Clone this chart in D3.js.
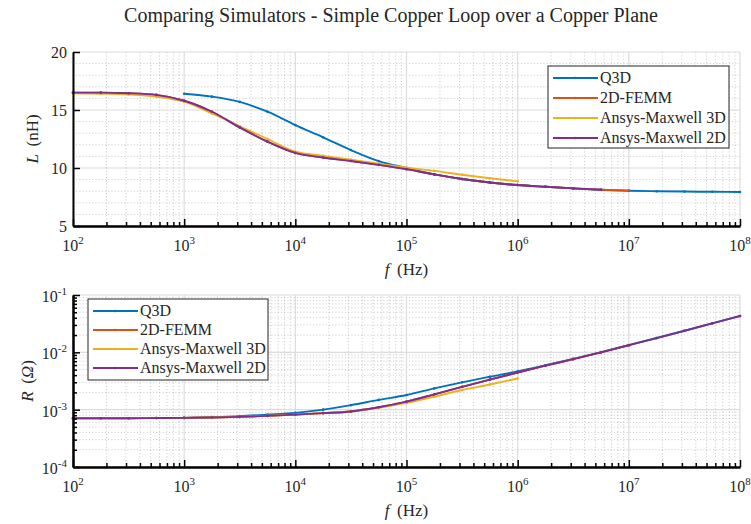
<!DOCTYPE html>
<html><head><meta charset="utf-8">
<script src="https://cdn.jsdelivr.net/npm/d3@7"></script>
<style>body{margin:0;background:#fff}svg{display:block}svg text{font-family:"Liberation Serif",Tinos,"Nimbus Roman","Times New Roman",Times,"DejaVu Serif","Noto Serif",serif;fill:#262626}</style>
</head><body><svg id="c" width="751" height="524"></svg>
<script>
// ---- data ----
const title = "Comparing Simulators - Simple Copper Loop over a Copper Plane";
const seriesNames = ["Q3D", "2D-FEMM", "Ansys-Maxwell 3D", "Ansys-Maxwell 2D"];
const seriesColors = ["#0072BD", "#D95319", "#EDB120", "#7E2F8E"];
// frequency exponents (log10 Hz), 4 points per decade
const fExp = [2,2.25,2.5,2.75,3,3.25,3.5,3.75,4,4.25,4.5,4.75,5,5.25,5.5,5.75,6,6.25,6.5,6.75,7,7.25,7.5,7.75,8];
// Inductance L (nH); null = no sample
const L_Q3D   = [null,null,null,null,16.4,16.15,15.7,14.85,13.7,12.65,11.55,10.6,10.0,9.45,9.05,8.75,8.53,8.38,8.24,8.12,8.04,8.0,7.97,7.95,7.93];
const L_FEMM  = [16.5,16.5,16.45,16.3,15.8,14.85,13.5,12.27,11.3,10.9,10.6,10.27,9.9,9.45,9.05,8.75,8.53,8.38,8.24,8.12,8.05,null,null,null,null];
const L_MX3D  = [16.45,16.4,16.33,16.15,15.72,14.7,13.6,12.5,11.4,11.05,10.72,10.38,10.03,9.75,9.42,9.12,8.85,null,null,null,null,null,null,null,null];
const L_MX2D  = [16.5,16.5,16.45,16.3,15.8,14.85,13.5,12.27,11.3,10.9,10.6,10.27,9.9,9.45,9.05,8.75,8.53,8.38,8.24,8.12,null,null,null,null,null];
// Resistance R (Ohm)
const R_Q3D   = [null,null,null,null,7.2e-4,7.4e-4,7.7e-4,8.2e-4,8.8e-4,1.0e-3,1.2e-3,1.48e-3,1.8e-3,2.35e-3,3.0e-3,3.75e-3,4.65e-3,5.95e-3,7.7e-3,1.01e-2,1.34e-2,1.78e-2,2.38e-2,3.2e-2,4.3e-2];
const R_FEMM  = [7.1e-4,7.1e-4,7.1e-4,7.15e-4,7.2e-4,7.3e-4,7.5e-4,7.8e-4,8.2e-4,8.7e-4,9.3e-4,1.1e-3,1.38e-3,1.85e-3,2.5e-3,3.35e-3,4.45e-3,5.85e-3,7.6e-3,1.0e-2,1.33e-2,null,null,null,null];
const R_MX3D  = [7.1e-4,7.1e-4,7.1e-4,7.15e-4,7.2e-4,7.3e-4,7.5e-4,7.8e-4,8.2e-4,8.7e-4,9.3e-4,1.08e-3,1.31e-3,1.68e-3,2.2e-3,2.75e-3,3.5e-3,null,null,null,null,null,null,null,null];
const R_MX2D  = [7.1e-4,7.1e-4,7.1e-4,7.15e-4,7.2e-4,7.3e-4,7.5e-4,7.8e-4,8.2e-4,8.7e-4,9.3e-4,1.1e-3,1.38e-3,1.85e-3,2.5e-3,3.35e-3,4.45e-3,5.85e-3,7.6e-3,1.0e-2,1.33e-2,1.77e-2,2.37e-2,3.2e-2,4.3e-2];
const xTickExp = [2,3,4,5,6,7,8];
const lTicks = [5,10,15,20];
const rTickExp = [-4,-3,-2,-1];

// ---- drawing ----
const svg = d3.select("#c");
svg.append("text").attr("x", 391).attr("y", 22).attr("text-anchor","middle")
  .style("font-size","20px").text(title);

const x = d3.scaleLog().domain([1e2,1e8]).range([73,740]);
const minorOf = (lo, hi) => { const a=[]; for(let e=lo;e<hi;e++) for(let m=2;m<=9;m++) a.push(m*Math.pow(10,e)); return a; };
const xMinor = minorOf(2,8);

function drawPanel(cfg){
  const g = svg.append("g");
  const y = cfg.y, [y0,y1] = y.range(); // y0 bottom, y1 top
  const [xa,xb] = x.range();
  // minor grid
  g.append("g").selectAll("line").data(xMinor).join("line")
    .attr("x1",d=>x(d)).attr("x2",d=>x(d)).attr("y1",y0).attr("y2",y1)
    .attr("stroke","#b8b8b8").attr("stroke-width",0.8).attr("stroke-dasharray","1,2.2");
  g.append("g").selectAll("line").data(cfg.yMinor).join("line")
    .attr("y1",d=>y(d)).attr("y2",d=>y(d)).attr("x1",xa).attr("x2",xb)
    .attr("stroke","#b8b8b8").attr("stroke-width",0.8).attr("stroke-dasharray","1,2.2");
  // major grid
  g.append("g").selectAll("line").data(xTickExp.map(e=>Math.pow(10,e))).join("line")
    .attr("x1",d=>x(d)).attr("x2",d=>x(d)).attr("y1",y0).attr("y2",y1)
    .attr("stroke","#dcdcdc").attr("stroke-width",1.2);
  g.append("g").selectAll("line").data(cfg.yMajor).join("line")
    .attr("y1",d=>y(d)).attr("y2",d=>y(d)).attr("x1",xa).attr("x2",xb)
    .attr("stroke","#dcdcdc").attr("stroke-width",1.2);
  // series
  cfg.series.forEach((vals,i)=>{
    const pts = fExp.map((e,j)=>({f:Math.pow(10,e), v:vals[j]})).filter(p=>p.v!=null);
    const line = d3.line().x(p=>x(p.f)).y(p=>y(p.v)).curve(d3.curveMonotoneX);
    g.append("path").attr("d",line(pts)).attr("fill","none")
      .attr("stroke",seriesColors[i]).attr("stroke-width",1.9);
    g.append("g").selectAll("circle").data(pts).join("circle")
      .attr("cx",p=>x(p.f)).attr("cy",p=>y(p.v)).attr("r",1.3).attr("fill",seriesColors[i]);
  });
  // axes (ticks inward)
  const ax = g.append("g").attr("transform",`translate(0,${y0})`);
  ax.call(d3.axisBottom(x).tickValues(xMinor).tickSize(-4).tickSizeOuter(0).tickFormat(""));
  ax.append("g").call(d3.axisBottom(x).tickValues(xTickExp.map(e=>Math.pow(10,e))).tickSize(-7).tickSizeOuter(0).tickFormat(""));
  ax.selectAll("path").attr("stroke","#000").attr("stroke-width",2);
  ax.selectAll("line").attr("stroke","#000").attr("stroke-width",1.5);
  const xl = g.append("g").selectAll("text").data(xTickExp).join("text")
    .attr("x",e=>x(Math.pow(10,e))).attr("y",y0+25).attr("text-anchor","middle").style("font-size","16px");
  xl.append("tspan").text("10");
  xl.append("tspan").attr("dy",-7).style("font-size","11px").text(e=>e);
  const ay = g.append("g").attr("transform",`translate(${xa},0)`);
  if(cfg.yAxisMinor){
    ay.call(d3.axisLeft(y).tickValues(cfg.yMinor).tickSize(-4).tickSizeOuter(0).tickFormat(""));
    ay.append("g").call(d3.axisLeft(y).tickValues(cfg.yMajor).tickSize(-7).tickSizeOuter(0).tickFormat(""));
  } else {
    ay.call(d3.axisLeft(y).tickValues(cfg.yMajor).tickSize(-7).tickSizeOuter(0).tickFormat(""));
  }
  ay.selectAll("path").attr("stroke","#000").attr("stroke-width",2);
  ay.selectAll("line").attr("stroke","#000").attr("stroke-width",1.5);
  cfg.yLabels(g, y, xa);
  // x label
  const xt = g.append("text").attr("x",(xa+xb)/2).attr("y",y0+49).attr("text-anchor","middle").style("font-size","17px");
  xt.append("tspan").style("font-style","italic").text("f");
  xt.append("tspan").text("\u2009 (Hz)");
  // y label
  const yt = g.append("text").attr("transform",`translate(${cfg.ylabX},${(y0+y1)/2}) rotate(-90)`)
    .attr("text-anchor","middle").style("font-size","17px");
  cfg.ylab(yt);
  // legend
  const lg = g.append("g").attr("transform",`translate(${cfg.leg[0]},${cfg.leg[1]})`);
  lg.append("rect").attr("width",cfg.leg[2]).attr("height",cfg.leg[3]).attr("fill","#fff").attr("stroke","#262626").attr("stroke-width",1);
  seriesNames.forEach((n,i)=>{
    const yy = 12 + i*cfg.legStep;
    lg.append("line").attr("x1",5).attr("x2",50).attr("y1",yy).attr("y2",yy).attr("stroke",seriesColors[i]).attr("stroke-width",1.8);
    lg.append("circle").attr("cx",27).attr("cy",yy).attr("r",1.3).attr("fill",seriesColors[i]);
    lg.append("text").attr("x",52).attr("y",yy+5).style("font-size","16px").text(n);
  });
}

drawPanel({
  y: d3.scaleLinear().domain([5,20]).range([226,52]),
  yMajor: lTicks,
  yMinor: d3.range(5,21).filter(v=>v%5!==0),
  yAxisMinor:false,
  series:[L_Q3D,L_FEMM,L_MX3D,L_MX2D],
  yLabels:(g,y,xa)=>{
    g.append("g").selectAll("text").data(lTicks).join("text")
      .attr("x",xa-6).attr("y",v=>y(v)+6).attr("text-anchor","end").style("font-size","16px").text(v=>v);
  },
  ylabX:38,
  ylab:t=>{t.append("tspan").style("font-style","italic").text("L");t.append("tspan").text("\u2009 (nH)");},
  leg:[548,66,181,82], legStep:20
});

drawPanel({
  y: d3.scaleLog().domain([1e-4,1e-1]).range([467,295]),
  yMajor: rTickExp.map(e=>Math.pow(10,e)),
  yMinor: minorOf(-4,-1),
  yAxisMinor:true,
  series:[R_Q3D,R_FEMM,R_MX3D,R_MX2D],
  yLabels:(g,y,xa)=>{
    const t = g.append("g").selectAll("text").data(rTickExp).join("text")
      .attr("x",xa-6).attr("y",e=>y(Math.pow(10,e))+7).attr("text-anchor","end").style("font-size","16px");
    t.append("tspan").text("10");
    t.append("tspan").attr("dy",-7).style("font-size","11px").text(e=>"-"+Math.abs(e));
  },
  ylabX:33,
  ylab:t=>{t.append("tspan").style("font-style","italic").text("R");t.append("tspan").text("\u2009 (");t.append("tspan").style("font-style","italic").text("\u03A9");t.append("tspan").text(")");},
  leg:[88,299,180,81], legStep:19
});
</script></body></html>
